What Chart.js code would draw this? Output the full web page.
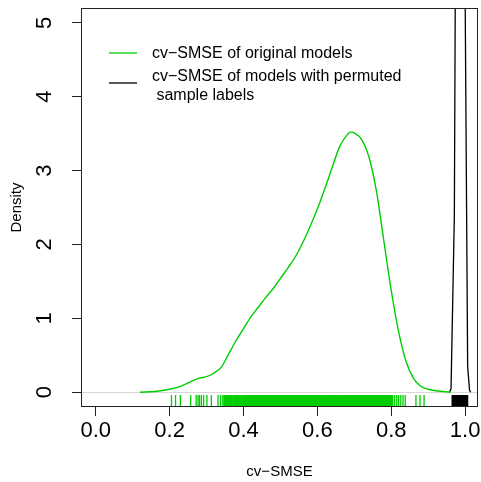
<!DOCTYPE html>
<html>
<head>
<meta charset="utf-8">
<script src="https://cdn.jsdelivr.net/npm/chart.js@4"></script>
<style>
  html, body { margin: 0; padding: 0; background: #fff; }
  canvas { display: block; }
</style>
</head>
<body>
<canvas id="densityChart" width="481" height="482"></canvas>
<script>
// density of cv-SMSE for the original models
const origX = [0.12, 0.16, 0.2, 0.23, 0.26, 0.28, 0.3, 0.32, 0.34, 0.36, 0.38, 0.4, 0.42, 0.44, 0.46,
  0.48, 0.5, 0.52, 0.54, 0.56, 0.58, 0.6, 0.62, 0.64, 0.66, 0.68, 0.69, 0.7, 0.72, 0.74, 0.76, 0.78,
  0.8, 0.82, 0.84, 0.86, 0.88, 0.9, 0.92, 0.94, 0.96];
const origY = [0.0, 0.01, 0.04, 0.08, 0.15, 0.19, 0.21, 0.26, 0.34, 0.52, 0.7, 0.86, 1.02, 1.15, 1.28,
  1.4, 1.54, 1.68, 1.83, 2.02, 2.24, 2.48, 2.75, 3.04, 3.32, 3.48, 3.52, 3.51, 3.42, 3.18, 2.72, 2.05,
  1.38, 0.82, 0.42, 0.19, 0.08, 0.04, 0.02, 0.01, 0.0];

// density of cv-SMSE with permuted sample labels (peak runs far off the top)
const permX = [0.958, 0.962, 0.971, 0.974, 0.982, 0.987, 0.992, 1.0, 1.007, 1.012, 1.015];
const permY = [0, 0.05, 2.4, 6, 28, 32, 28, 5.5, 0.35, 0.03, 0];

// rug marks
const origRug = [0.205, 0.216, 0.229, 0.257, 0.272, 0.277, 0.281, 0.286, 0.292, 0.301, 0.313, 0.331,
  0.338, 0.344, 0.349, 0.353, 0.357, 0.361, 0.366, 0.370, 0.376, 0.380, 0.384, 0.388, 0.392, 0.398,
  0.402, 0.406, 0.410, 0.414, 0.418, 0.422, 0.426, 0.430, 0.434, 0.438, 0.442, 0.446, 0.450, 0.454,
  0.458, 0.462, 0.466, 0.470, 0.474, 0.478, 0.482, 0.486, 0.490, 0.494, 0.498, 0.502, 0.506, 0.510,
  0.514, 0.518, 0.522, 0.526, 0.530, 0.534, 0.538, 0.542, 0.546, 0.550, 0.554, 0.558, 0.562, 0.566,
  0.570, 0.574, 0.578, 0.582, 0.586, 0.590, 0.594, 0.598, 0.602, 0.606, 0.610, 0.614, 0.618, 0.624,
  0.628, 0.632, 0.636, 0.640, 0.644, 0.648, 0.652, 0.656, 0.662, 0.666, 0.670, 0.674, 0.678, 0.682,
  0.686, 0.690, 0.694, 0.698, 0.702, 0.706, 0.710, 0.714, 0.718, 0.722, 0.726, 0.730, 0.734, 0.738,
  0.742, 0.746, 0.750, 0.754, 0.758, 0.762, 0.766, 0.770, 0.774, 0.778, 0.782, 0.786, 0.790, 0.794,
  0.798, 0.802, 0.809, 0.815, 0.820, 0.826, 0.832, 0.838, 0.867, 0.878, 0.889];
const permRug = [0.966, 0.968, 0.970, 0.972, 0.974, 0.976, 0.978, 0.980, 0.982, 0.984, 0.986, 0.988,
  0.990, 0.992, 0.994, 0.996, 0.998, 1.000, 1.002, 1.004, 1.006];

const xTicks = [0.0, 0.2, 0.4, 0.6, 0.8, 1.0];
const yTicks = [0, 1, 2, 3, 4, 5];

const origLabel = ["cv\u2212SMSE of original models"];
const permLabel = ["cv\u2212SMSE of models with permuted", " sample labels"];
const xTitle = "cv\u2212SMSE";
const yTitle = "Density";

const GREEN = "#00cd00";
const BLACK = "#000000";
const FONT = '"Liberation Sans", Arial, Helvetica, sans-serif';
const RUG_Y = -0.12;

function toPoints(xs, ys) {
  return xs.map((x, i) => ({ x: x, y: ys[i] }));
}
function toRug(xs) {
  return xs.map((x) => ({ x: x, y: RUG_Y }));
}
// thicker strokes where the rug is packed so it reads as a solid band
function rugWidth(c) {
  const x = c.raw ? c.raw.x : 0;
  return x > 0.345 && x < 0.805 ? 2.6 : 1.3;
}

// plot frame, like R's box()
const framePlugin = {
  id: "frame",
  afterDraw(chart) {
    const a = chart.chartArea;
    const ctx = chart.ctx;
    ctx.save();
    ctx.strokeStyle = "#222";
    ctx.lineWidth = 1;
    ctx.strokeRect(Math.round(a.left) + 0.5, Math.round(a.top) + 0.5,
      Math.round(a.right - a.left) - 1, Math.round(a.bottom - a.top) - 1);
    ctx.restore();
  },
};

// legend inside the plot, no border
const legendPlugin = {
  id: "rLegend",
  afterDraw(chart) {
    const a = chart.chartArea;
    const ctx = chart.ctx;
    const entries = [
      { color: GREEN, lines: origLabel, lineY: 45, textY: 46 },
      { color: BLACK, lines: permLabel, lineY: 75, textY: 69 },
    ];
    ctx.save();
    ctx.font = "16px " + FONT;
    ctx.textBaseline = "middle";
    ctx.textAlign = "left";
    entries.forEach((e) => {
      ctx.strokeStyle = e.color;
      ctx.lineWidth = 1.3;
      ctx.beginPath();
      ctx.moveTo(a.left + 28, a.top + e.lineY);
      ctx.lineTo(a.left + 56, a.top + e.lineY);
      ctx.stroke();
      ctx.fillStyle = "#000";
      e.lines.forEach((t, i) => {
        ctx.fillText(t, a.left + 71, a.top + e.textY + i * 19);
      });
    });
    ctx.restore();
  },
};

const ctx = document.getElementById("densityChart").getContext("2d");
const chart = new Chart(ctx, {
  type: "scatter",
  data: {
    datasets: [
      {
        label: origLabel.join(" "),
        data: toPoints(origX, origY),
        showLine: true,
        borderColor: GREEN,
        borderWidth: 1.4,
        pointRadius: 0,
        cubicInterpolationMode: "monotone",
      },
      {
        label: permLabel.join(" "),
        data: toPoints(permX, permY),
        showLine: true,
        borderColor: BLACK,
        borderWidth: 1.3,
        pointRadius: 0,
        tension: 0,
      },
      {
        label: "rug original",
        data: toRug(origRug),
        showLine: false,
        pointStyle: "line",
        rotation: 90,
        pointRadius: 6,
        pointBorderWidth: rugWidth,
        pointBorderColor: GREEN,
        pointBackgroundColor: GREEN,
      },
      {
        label: "rug permuted",
        data: toRug(permRug),
        showLine: false,
        pointStyle: "line",
        rotation: 90,
        pointRadius: 6,
        pointBorderWidth: 2,
        pointBorderColor: BLACK,
        pointBackgroundColor: BLACK,
      },
    ],
  },
  options: {
    responsive: false,
    animation: false,
    devicePixelRatio: 1,
    layout: { autoPadding: false, padding: { top: 8, right: 3, left: 0, bottom: 0 } },
    plugins: {
      legend: { display: false },
      tooltip: { enabled: false },
    },
    scales: {
      x: {
        type: "linear",
        min: -0.04,
        max: 1.035,
        afterBuildTicks: (axis) => {
          axis.ticks = xTicks.map((v) => ({ value: v }));
        },
        afterFit: (axis) => {
          axis.height = 75;
          axis.paddingLeft = 0;
          axis.paddingRight = 0;
        },
        border: { display: false },
        grid: {
          drawOnChartArea: false,
          drawTicks: true,
          tickLength: 9,
          tickColor: "#222",
          tickWidth: 1,
        },
        ticks: {
          color: "#000",
          font: { family: FONT, size: 22 },
          padding: 2,
          maxRotation: 0,
          callback: (v) => Number(v).toFixed(1),
        },
        title: {
          display: true,
          text: xTitle,
          color: "#000",
          font: { family: FONT, size: 15 },
          padding: { top: 0, bottom: 1 },
        },
      },
      y: {
        type: "linear",
        min: -0.2,
        max: 5.2,
        afterBuildTicks: (axis) => {
          axis.ticks = yTicks.map((v) => ({ value: v }));
        },
        afterFit: (axis) => {
          axis.width = 81;
          axis.paddingTop = 0;
          axis.paddingBottom = 0;
        },
        border: { display: false },
        grid: {
          drawOnChartArea: true,
          color: (c) => (c.tick && c.tick.value === 0 ? "#d8d8d8" : "rgba(0,0,0,0)"),
          drawTicks: true,
          tickLength: 9,
          tickColor: "#222",
          tickWidth: 1,
        },
        ticks: {
          color: "#000",
          font: { family: FONT, size: 22 },
          padding: 21,
          minRotation: 90,
          maxRotation: 90,
          crossAlign: "center",
          callback: (v) => String(v),
        },
        title: {
          display: true,
          text: yTitle,
          color: "#000",
          font: { family: FONT, size: 15 },
          padding: { top: 8, bottom: 0 },
        },
      },
    },
  },
  plugins: [framePlugin, legendPlugin],
});
</script>
</body>
</html>
